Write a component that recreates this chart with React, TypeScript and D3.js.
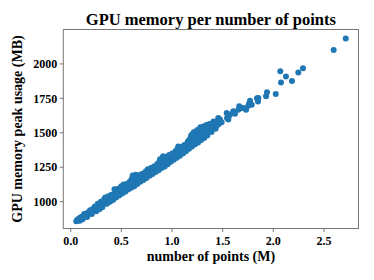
import React from 'react';
import * as d3 from 'd3';

// [number of points (M), GPU memory peak usage (MB)]
const bandPoints: [number, number][] = [
  [0.055, 858], [0.065, 861], [0.065, 868], [0.08, 866], [0.08, 875],
  [0.095, 872], [0.095, 884], [0.11, 880], [0.11, 890], [0.125, 896],
  [0.125, 887], [0.14, 893], [0.14, 906], [0.155, 912], [0.155, 900],
  [0.17, 908], [0.17, 921], [0.185, 927], [0.185, 915], [0.2, 922],
  [0.2, 936], [0.215, 944], [0.215, 930], [0.23, 937], [0.23, 951],
  [0.245, 958], [0.245, 944], [0.26, 950], [0.26, 966], [0.275, 972],
  [0.275, 958], [0.29, 964], [0.29, 980], [0.305, 988], [0.305, 972],
  [0.32, 980], [0.32, 996], [0.33, 1018], [0.335, 1003], [0.335, 988],
  [0.35, 994], [0.35, 1012], [0.365, 1017], [0.365, 1001], [0.38, 1010],
  [0.38, 1026], [0.395, 1032], [0.395, 1016], [0.41, 1024], [0.41, 1040],
  [0.425, 1048], [0.425, 1030], [0.44, 1060], [0.44, 1040], [0.44, 1072],
  [0.455, 1066], [0.455, 1046], [0.455, 1078], [0.47, 1052], [0.47, 1070],
  [0.485, 1076], [0.485, 1060], [0.5, 1068], [0.5, 1086], [0.5, 1112],
  [0.515, 1092], [0.515, 1076], [0.515, 1110], [0.53, 1084], [0.53, 1098],
  [0.545, 1104], [0.545, 1090], [0.56, 1098], [0.56, 1112], [0.575, 1120],
  [0.575, 1106], [0.59, 1112], [0.59, 1128], [0.59, 1150], [0.605, 1140],
  [0.605, 1120], [0.605, 1168], [0.62, 1150], [0.62, 1128], [0.62, 1176],
  [0.635, 1160], [0.635, 1136], [0.635, 1184], [0.65, 1142], [0.65, 1166],
  [0.65, 1178], [0.665, 1150], [0.665, 1170], [0.68, 1158], [0.68, 1174],
  [0.695, 1166], [0.695, 1182], [0.71, 1172], [0.71, 1190], [0.725, 1196],
  [0.725, 1180], [0.74, 1186], [0.74, 1204], [0.74, 1218], [0.755, 1210],
  [0.755, 1196], [0.755, 1226], [0.77, 1202], [0.77, 1220], [0.785, 1224],
  [0.785, 1208], [0.8, 1216], [0.8, 1232], [0.815, 1238], [0.815, 1224],
  [0.83, 1230], [0.83, 1248], [0.845, 1254], [0.845, 1238], [0.86, 1246],
  [0.86, 1264], [0.875, 1272], [0.875, 1252], [0.875, 1290], [0.89, 1282],
  [0.89, 1260], [0.89, 1300], [0.905, 1298], [0.905, 1268], [0.905, 1316],
  [0.92, 1290], [0.92, 1274], [0.92, 1320], [0.935, 1306], [0.935, 1282],
  [0.95, 1290], [0.95, 1310], [0.965, 1298], [0.965, 1318], [0.98, 1320],
  [0.98, 1304], [0.995, 1312], [0.995, 1330], [1.01, 1336], [1.01, 1320],
  [1.025, 1328], [1.025, 1346], [1.04, 1356], [1.04, 1336], [1.04, 1370],
  [1.055, 1366], [1.055, 1344], [1.055, 1384], [1.07, 1352], [1.07, 1378],
  [1.07, 1396], [1.085, 1374], [1.085, 1360], [1.1, 1368], [1.1, 1388],
  [1.115, 1394], [1.115, 1376], [1.13, 1384], [1.13, 1402], [1.145, 1410],
  [1.145, 1392], [1.16, 1400], [1.16, 1420], [1.16, 1440], [1.175, 1428],
  [1.175, 1408], [1.175, 1452], [1.19, 1416], [1.19, 1440], [1.19, 1470],
  [1.19, 1482], [1.205, 1446], [1.205, 1424], [1.205, 1490], [1.22, 1432],
  [1.22, 1460], [1.22, 1506], [1.235, 1470], [1.235, 1440], [1.235, 1498],
  [1.25, 1448], [1.25, 1480], [1.25, 1520], [1.265, 1490], [1.265, 1456],
  [1.265, 1512], [1.28, 1464], [1.28, 1500], [1.28, 1540], [1.295, 1510],
  [1.295, 1472], [1.295, 1530], [1.31, 1482], [1.31, 1520], [1.31, 1546],
  [1.325, 1528], [1.325, 1490], [1.34, 1498], [1.34, 1540], [1.34, 1556],
  [1.36, 1530], [1.36, 1510], [1.36, 1552], [1.38, 1548], [1.38, 1520],
  [1.4, 1560], [1.4, 1530], [1.4, 1570], [1.42, 1542], [1.42, 1566],
  [1.44, 1580], [1.44, 1552], [1.46, 1598], [1.46, 1562],
];

// runs that sit off the centre of the band
const bandSpread: [number, number][] = [
  [0.09, 862], [0.118, 872], [0.133, 910], [0.162, 889], [0.192, 938],
  [0.208, 910], [0.238, 965], [0.252, 930], [0.268, 985], [0.283, 945],
  [0.298, 1000], [0.312, 960], [0.342, 1030], [0.358, 985], [0.372, 1040],
  [0.388, 1000], [0.402, 1050], [0.418, 1012], [0.432, 1090], [0.448, 1030],
  [0.462, 1092], [0.478, 1044], [0.492, 1100], [0.508, 1060], [0.522, 1125],
  [0.538, 1072], [0.552, 1128], [0.568, 1088], [0.582, 1142], [0.598, 1100],
  [0.612, 1190], [0.628, 1112], [0.642, 1196], [0.658, 1128], [0.672, 1192],
  [0.688, 1145], [0.702, 1200], [0.718, 1158], [0.732, 1210], [0.748, 1172],
  [0.762, 1236], [0.778, 1188], [0.792, 1244], [0.808, 1200], [0.822, 1256],
  [0.838, 1216], [0.852, 1272], [0.868, 1228], [0.882, 1308], [0.898, 1244],
  [0.912, 1330], [0.928, 1256], [0.942, 1326], [0.958, 1272], [0.972, 1338],
  [0.988, 1290], [1.002, 1350], [1.018, 1304], [1.032, 1362], [1.048, 1318],
  [1.062, 1400], [1.078, 1334], [1.092, 1398], [1.108, 1350], [1.122, 1412],
  [1.138, 1366], [1.152, 1428], [1.168, 1384], [1.182, 1460], [1.198, 1400],
  [1.212, 1500], [1.228, 1416], [1.242, 1510], [1.258, 1430], [1.272, 1526],
  [1.288, 1448], [1.302, 1540], [1.318, 1462], [1.332, 1550], [1.348, 1480],
  [1.37, 1564], [1.39, 1506], [1.41, 1582], [1.43, 1530],
];

const tailPoints: [number, number][] = [
  [1.457, 1608], [1.474, 1597], [1.49, 1577], [1.54, 1644], [1.543, 1607],
  [1.556, 1596], [1.563, 1624], [1.573, 1632], [1.605, 1656], [1.622, 1638],
  [1.655, 1668], [1.664, 1692], [1.684, 1680], [1.704, 1680], [1.731, 1667],
  [1.753, 1697], [1.76, 1711], [1.77, 1733], [1.787, 1704], [1.839, 1750],
  [1.849, 1728], [1.852, 1753], [1.928, 1765], [1.938, 1794], [2.024, 1782],
  [2.069, 1946], [2.076, 1866], [2.125, 1908], [2.184, 1876], [2.247, 1937],
  [2.293, 1968], [2.596, 2102], [2.715, 2184],
];

const xTicks = [0, 0.5, 1.0, 1.5, 2.0, 2.5];
const yTicks = [1000, 1250, 1500, 1750, 2000];

const title = 'GPU memory per number of points';
const xLabel = 'number of points (M)';
const yLabel = 'GPU memory peak usage (MB)';

const W = 374;
const H = 280;
const margin = { top: 29.5, right: 15.5, bottom: 51.5, left: 63.3 };
const font = '"Liberation Serif", "Times New Roman", serif';

export default function App() {
  const innerW = W - margin.left - margin.right;
  const innerH = H - margin.top - margin.bottom;

  const x = d3.scaleLinear().domain([-0.073, 2.841]).range([0, innerW]);
  const y = d3.scaleLinear().domain([805, 2250]).range([innerH, 0]);
  const fmt = d3.format('.1f');

  const points = [...bandPoints, ...bandSpread, ...tailPoints];

  return (
    <svg
      width={W}
      height={H}
      style={{ position: 'absolute', left: 0, top: 0, background: '#fff' }}
      fontFamily={font}
      fontWeight="bold"
    >
      <text x={margin.left + innerW / 2} y={25} textAnchor="middle" fontSize={16.5}>
        {title}
      </text>
      <g transform={`translate(${margin.left},${margin.top})`}>
        {points.map((d, i) => (
          <circle key={i} cx={x(d[0])} cy={y(d[1])} r={3} fill="#1f77b4" />
        ))}
        <rect width={innerW} height={innerH} fill="none" stroke="#777" strokeWidth={1} />
        {xTicks.map((t) => (
          <g key={t} transform={`translate(${x(t)},${innerH})`}>
            <line y2={3.5} stroke="#777" />
            <text y={16} textAnchor="middle" fontSize={12}>
              {fmt(t)}
            </text>
          </g>
        ))}
        {yTicks.map((t) => (
          <g key={t} transform={`translate(0,${y(t)})`}>
            <line x2={-3.5} stroke="#777" />
            <text x={-6} dy="0.35em" textAnchor="end" fontSize={12}>
              {t}
            </text>
          </g>
        ))}
        <text x={innerW / 2} y={innerH + 32} textAnchor="middle" fontSize={14}>
          {xLabel}
        </text>
        <text
          transform={`translate(${-41},${innerH / 2}) rotate(-90)`}
          textAnchor="middle"
          fontSize={14}
        >
          {yLabel}
        </text>
      </g>
    </svg>
  );
}
